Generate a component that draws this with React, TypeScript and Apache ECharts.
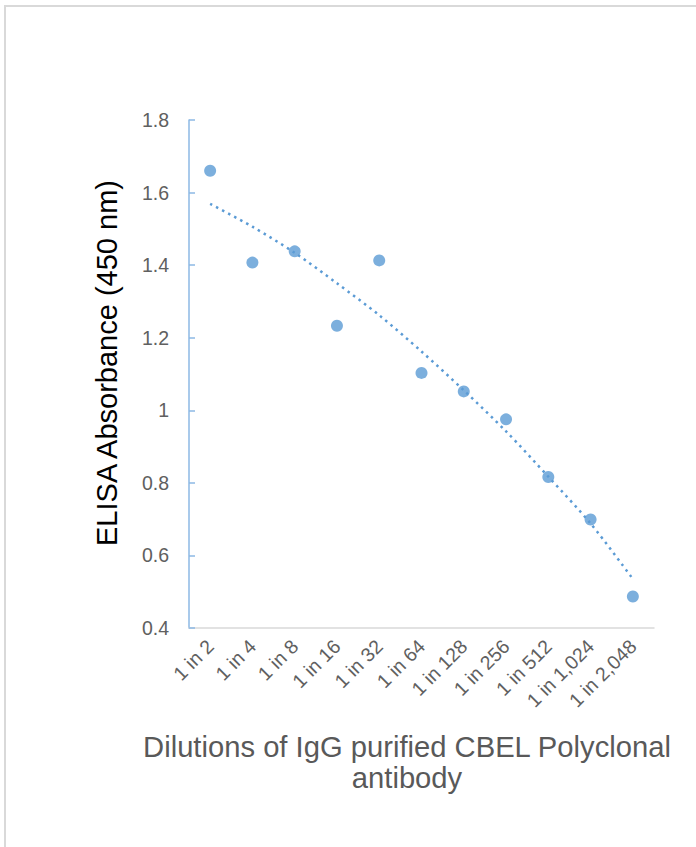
import React, { useEffect, useRef } from "react";
import * as echarts from "echarts";

const categories = [
  "1 in 2", "1 in 4", "1 in 8", "1 in 16", "1 in 32", "1 in 64",
  "1 in 128", "1 in 256", "1 in 512", "1 in 1,024", "1 in 2,048",
];
const absorbance = [1.66, 1.407, 1.438, 1.233, 1.413, 1.103, 1.052, 0.975, 0.816, 0.699, 0.487];
const trendline = [1.569, 1.506, 1.434, 1.350, 1.262, 1.162, 1.055, 0.942, 0.817, 0.688, 0.535];
const yTicks = { min: 0.4, max: 1.8, interval: 0.2 };
const yTitle = "ELISA Absorbance (450 nm)";
const xTitleLines = ["Dilutions of IgG purified CBEL Polyclonal", "antibody"];

const FONT = "'Liberation Sans', Arial, sans-serif";
const BLUE = "#5b9bd5";

export default function App() {
  const ref = useRef<HTMLDivElement>(null);
  useEffect(() => {
    if (!ref.current) return;
    const chart = echarts.init(ref.current, null, { renderer: "svg" });
    chart.setOption({
      animation: false,
      backgroundColor: "#ffffff",
      grid: { left: 189, right: 42, top: 120, bottom: 219, containLabel: false },
      xAxis: {
        type: "category",
        data: categories,
        boundaryGap: true,
        axisLine: { show: true, lineStyle: { color: "#d9d9d9", width: 1.5 } },
        axisTick: { show: false },
        axisLabel: {
          rotate: 45,
          margin: 15,
          color: "#606060",
          fontSize: 19.5,
          fontFamily: FONT,
          interval: 0,
        },
        splitLine: { show: false },
      },
      yAxis: {
        type: "value",
        min: yTicks.min,
        max: yTicks.max,
        interval: yTicks.interval,
        axisLine: { show: true, lineStyle: { color: "#8cb8e4", width: 1.5 } },
        axisTick: { show: true, inside: true, length: 6, lineStyle: { color: "#8cb8e4", width: 1.5 } },
        axisLabel: { color: "#606060", fontSize: 19.5, fontFamily: FONT, margin: 20 },
        splitLine: { show: false },
      },
      series: [
        {
          type: "line",
          data: trendline,
          symbol: "none",
          smooth: 0.3,
          lineStyle: { color: BLUE, width: 2.5, type: [2.5, 4.3] },
          z: 1,
        },
        {
          type: "scatter",
          data: absorbance,
          symbol: "circle",
          symbolSize: 12,
          itemStyle: { color: BLUE },
          z: 2,
        },
      ],
      graphic: [
        {
          type: "rect",
          shape: { x: 5, y: 6, width: 1000, height: 1000 },
          style: { fill: "none", stroke: "#d9d9d9", lineWidth: 2 },
          silent: true,
        },
        {
          type: "text",
          x: 107,
          y: 363,
          rotation: Math.PI / 2,
          style: {
            text: yTitle,
            fill: "#000000",
            font: `29px ${FONT}`,
            align: "center",
            verticalAlign: "middle",
          },
        },
        {
          type: "text",
          x: 407,
          y: 747,
          style: {
            text: xTitleLines[0],
            fill: "#595959",
            font: `29.2px ${FONT}`,
            align: "center",
            verticalAlign: "middle",
          },
        },
        {
          type: "text",
          x: 407,
          y: 778,
          style: {
            text: xTitleLines[1],
            fill: "#595959",
            font: `29.2px ${FONT}`,
            align: "center",
            verticalAlign: "middle",
          },
        },
      ],
    });
    return () => chart.dispose();
  }, []);
  return (
    <div
      ref={ref}
      style={{ position: "fixed", left: 0, top: 0, width: 696, height: 847 }}
    />
  );
}
